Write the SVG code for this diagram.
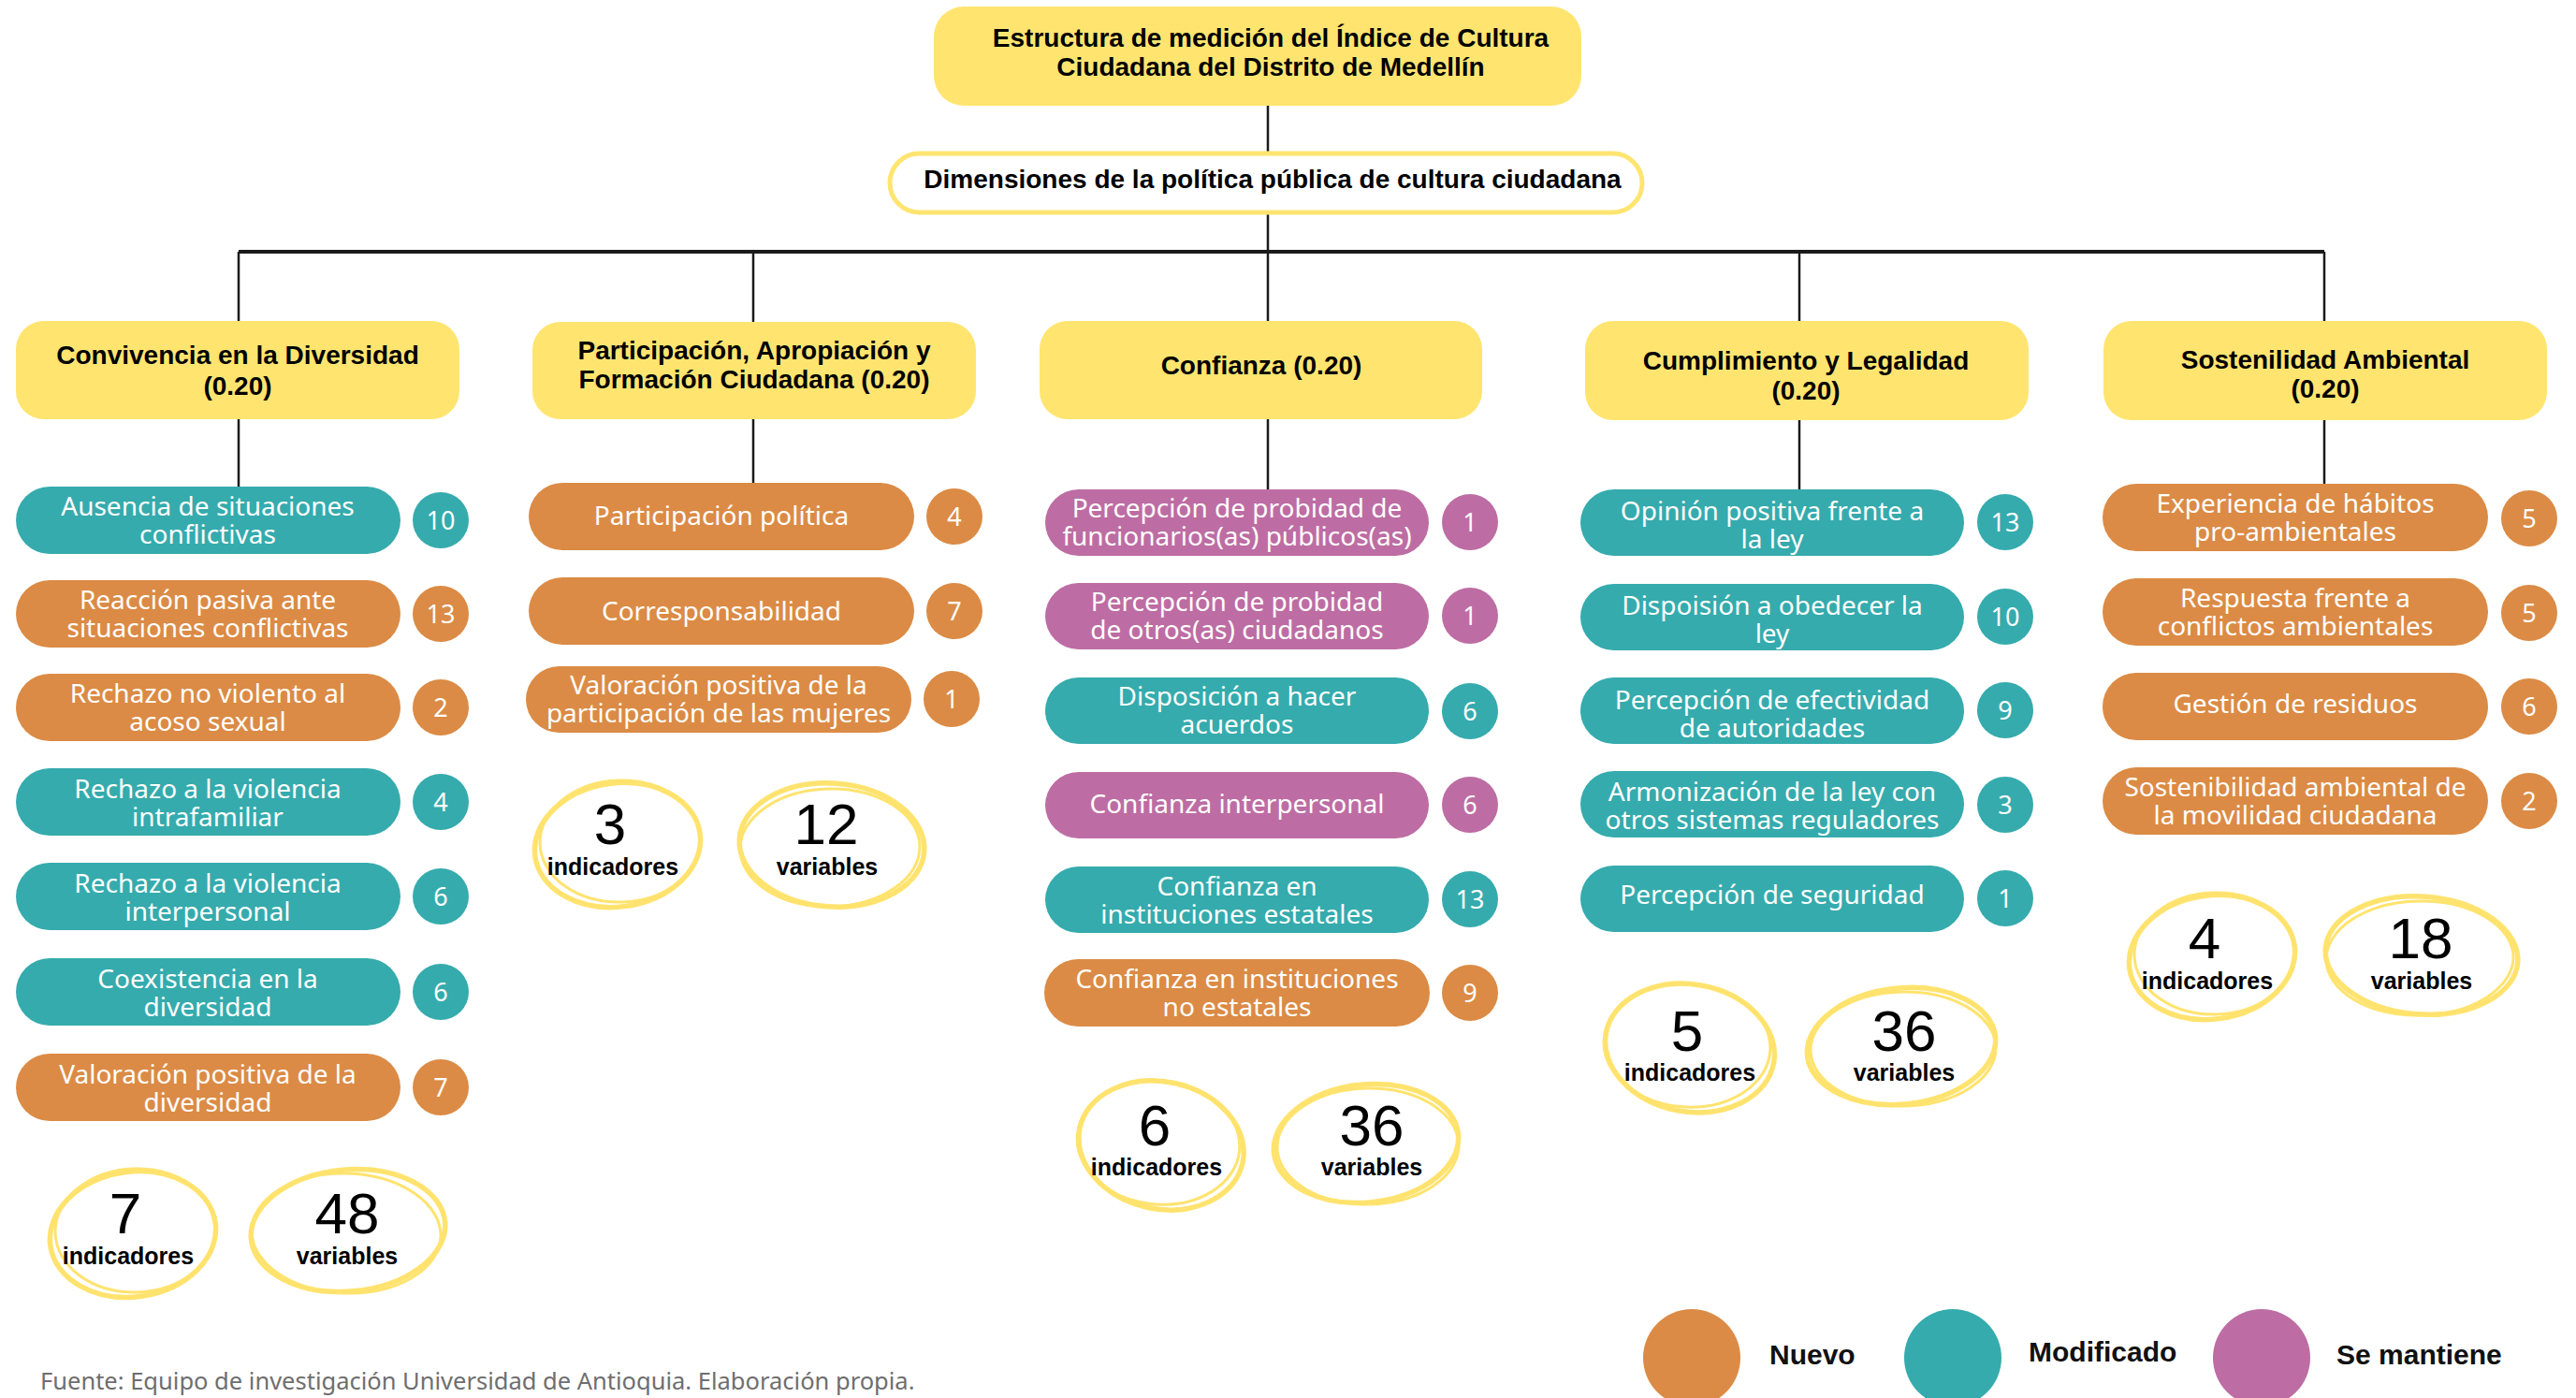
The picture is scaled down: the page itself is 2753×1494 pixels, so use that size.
<svg xmlns="http://www.w3.org/2000/svg" width="2753" height="1494" viewBox="0 0 2753 1494">
<style>
.bg{fill:#ffffff}
.yb{fill:#FFE570}
.dimsbox{fill:#ffffff;stroke:#FFE570;stroke-width:5}
.t{fill:#35ABAD}
.o{fill:#DB8B45}
.p{fill:#BD6DA3}
.ln{stroke:#1a1a1a;stroke-width:2.5;fill:none}
.hl{stroke:#1a1a1a;stroke-width:4;fill:none}
.ttl{font-family:"Liberation Sans",Arial,sans-serif;font-weight:bold;font-size:28px;fill:#000;text-anchor:middle}
.it{font-family:"Noto Sans","Liberation Sans",sans-serif;font-size:28px;fill:#fff;text-anchor:middle}
.bn{font-family:"Noto Sans","Liberation Sans",sans-serif;font-size:27px;fill:#fff;text-anchor:middle}
.num{font-family:"Liberation Sans",Arial,sans-serif;font-size:62px;fill:#000;text-anchor:middle}
.lab{font-family:"Liberation Sans",Arial,sans-serif;font-weight:bold;font-size:25px;fill:#000;text-anchor:middle}
.sk{fill:none;stroke:#FFE36E;stroke-width:5.5}
.sk2{fill:none;stroke:#FFE36E;stroke-width:3}
.leg{font-family:"Liberation Sans",Arial,sans-serif;font-weight:bold;font-size:30px;fill:#111}
.src{font-family:"Noto Sans","Liberation Sans",sans-serif;font-size:25.5px;fill:#6e6e6e}
</style>
<rect class="bg" x="0" y="0" width="2753" height="1494"/>

<g id="connectors">
<line class="ln" x1="1355" y1="113" x2="1355" y2="162"/>
<line class="ln" x1="1355" y1="228" x2="1355" y2="269"/>
<line class="hl" x1="255" y1="269" x2="2484" y2="269"/>
<line class="ln" x1="255" y1="269" x2="255" y2="343"/>
<line class="ln" x1="805" y1="269" x2="805" y2="344"/>
<line class="ln" x1="1355" y1="269" x2="1355" y2="343"/>
<line class="ln" x1="1923" y1="269" x2="1923" y2="343"/>
<line class="ln" x1="2484" y1="269" x2="2484" y2="343"/>
<line class="ln" x1="255" y1="448" x2="255" y2="522"/>
<line class="ln" x1="805" y1="448" x2="805" y2="518"/>
<line class="ln" x1="1355" y1="448" x2="1355" y2="525"/>
<line class="ln" x1="1923" y1="449" x2="1923" y2="525"/>
<line class="ln" x1="2484" y1="449" x2="2484" y2="519"/>
</g>

<g id="title">
<rect class="yb" x="998" y="7" width="692" height="106" rx="32"/>
<text class="ttl" x="1358" y="50">Estructura de medición del Índice de Cultura</text>
<text class="ttl" x="1358" y="81">Ciudadana del Distrito de Medellín</text>
</g>

<g id="dimensiones">
<rect class="dimsbox" x="951" y="164" width="804" height="63" rx="31.5"/>
<text class="ttl" x="1360" y="201">Dimensiones de la política pública de cultura ciudadana</text>
</g>

<!-- Column 1 -->
<g id="dim-convivencia">
<rect class="yb" x="17" y="343" width="474" height="105" rx="30"/>
<text class="ttl" x="254" y="389">Convivencia en la Diversidad</text>
<text class="ttl" x="254" y="422">(0.20)</text>
</g>
<g id="c1-1"><rect class="t" x="17" y="520" width="411" height="72" rx="36"/><text class="it" x="222" y="551">Ausencia de situaciones</text><text class="it" x="222" y="581">conflictivas</text><circle class="t" cx="471" cy="556" r="30"/><text class="bn" x="471" y="566">10</text></g>
<g id="c1-2"><rect class="o" x="17" y="620" width="411" height="72" rx="36"/><text class="it" x="222" y="651">Reacción pasiva ante</text><text class="it" x="222" y="681">situaciones conflictivas</text><circle class="o" cx="471" cy="656" r="30"/><text class="bn" x="471" y="666">13</text></g>
<g id="c1-3"><rect class="o" x="17" y="720" width="411" height="72" rx="36"/><text class="it" x="222" y="751">Rechazo no violento al</text><text class="it" x="222" y="781">acoso sexual</text><circle class="o" cx="471" cy="756" r="30"/><text class="bn" x="471" y="766">2</text></g>
<g id="c1-4"><rect class="t" x="17" y="821" width="411" height="72" rx="36"/><text class="it" x="222" y="853">Rechazo a la violencia</text><text class="it" x="222" y="883">intrafamiliar</text><circle class="t" cx="471" cy="857" r="30"/><text class="bn" x="471" y="867">4</text></g>
<g id="c1-5"><rect class="t" x="17" y="922" width="411" height="72" rx="36"/><text class="it" x="222" y="954">Rechazo a la violencia</text><text class="it" x="222" y="984">interpersonal</text><circle class="t" cx="471" cy="958" r="30"/><text class="bn" x="471" y="968">6</text></g>
<g id="c1-6"><rect class="t" x="17" y="1024" width="411" height="72" rx="36"/><text class="it" x="222" y="1056">Coexistencia en la</text><text class="it" x="222" y="1086">diversidad</text><circle class="t" cx="471" cy="1060" r="30"/><text class="bn" x="471" y="1070">6</text></g>
<g id="c1-7"><rect class="o" x="17" y="1126" width="411" height="72" rx="36"/><text class="it" x="222" y="1158">Valoración positiva de la</text><text class="it" x="222" y="1188">diversidad</text><circle class="o" cx="471" cy="1162" r="30"/><text class="bn" x="471" y="1172">7</text></g>
<g id="c1-stats">
<ellipse class="sk" cx="142" cy="1319" rx="89" ry="67" transform="rotate(-8 142 1319)"/>
<ellipse class="sk2" cx="145" cy="1315" rx="86" ry="66" transform="rotate(-2 145 1315)"/>
<text class="num" x="134" y="1318">7</text>
<text class="lab" x="137" y="1351">indicadores</text>
<ellipse class="sk" cx="372" cy="1315" rx="104" ry="65" transform="rotate(-5 372 1315)"/>
<ellipse class="sk2" cx="370" cy="1318" rx="101" ry="64" transform="rotate(2 370 1318)"/>
<text class="num" x="371" y="1318">48</text>
<text class="lab" x="371" y="1351">variables</text>
</g>

<!-- Column 2 -->
<g id="dim-participacion">
<rect class="yb" x="569" y="344" width="474" height="104" rx="30"/>
<text class="ttl" x="806" y="384">Participación, Apropiación y</text>
<text class="ttl" x="806" y="415">Formación Ciudadana (0.20)</text>
</g>
<g id="c2-1"><rect class="o" x="565" y="516" width="412" height="72" rx="36"/><text class="it" x="771" y="561">Participación política</text><circle class="o" cx="1020" cy="552" r="30"/><text class="bn" x="1020" y="562">4</text></g>
<g id="c2-2"><rect class="o" x="565" y="617" width="412" height="72" rx="36"/><text class="it" x="771" y="663">Corresponsabilidad</text><circle class="o" cx="1020" cy="653" r="30"/><text class="bn" x="1020" y="663">7</text></g>
<g id="c2-3"><rect class="o" x="562" y="712" width="412" height="71" rx="35.5"/><text class="it" x="768" y="742">Valoración positiva de la</text><text class="it" x="768" y="772">participación de las mujeres</text><circle class="o" cx="1017" cy="747" r="30"/><text class="bn" x="1017" y="757">1</text></g>
<g id="c2-stats">
<ellipse class="sk" cx="660" cy="903" rx="89" ry="66" transform="rotate(-8 660 903)"/>
<ellipse class="sk2" cx="663" cy="899" rx="86" ry="65" transform="rotate(-2 663 899)"/>
<text class="num" x="652" y="902">3</text>
<text class="lab" x="655" y="935">indicadores</text>
<ellipse class="sk" cx="889" cy="903" rx="99" ry="66" transform="rotate(4 889 903)"/>
<ellipse class="sk2" cx="887" cy="906" rx="96" ry="63" transform="rotate(-1 887 906)"/>
<text class="num" x="883" y="902">12</text>
<text class="lab" x="884" y="935">variables</text>
</g>

<!-- Column 3 -->
<g id="dim-confianza">
<rect class="yb" x="1111" y="343" width="473" height="105" rx="30"/>
<text class="ttl" x="1348" y="400">Confianza (0.20)</text>
</g>
<g id="c3-1"><rect class="p" x="1117" y="523" width="410" height="71" rx="35.5"/><text class="it" x="1322" y="553">Percepción de probidad de</text><text class="it" x="1322" y="583">funcionarios(as) públicos(as)</text><circle class="p" cx="1571" cy="558" r="30"/><text class="bn" x="1571" y="568">1</text></g>
<g id="c3-2"><rect class="p" x="1117" y="623" width="410" height="71" rx="35.5"/><text class="it" x="1322" y="653">Percepción de probidad</text><text class="it" x="1322" y="683">de otros(as) ciudadanos</text><circle class="p" cx="1571" cy="658" r="30"/><text class="bn" x="1571" y="668">1</text></g>
<g id="c3-3"><rect class="t" x="1117" y="724" width="410" height="71" rx="35.5"/><text class="it" x="1322" y="754">Disposición a hacer</text><text class="it" x="1322" y="784">acuerdos</text><circle class="t" cx="1571" cy="760" r="30"/><text class="bn" x="1571" y="770">6</text></g>
<g id="c3-4"><rect class="p" x="1117" y="825" width="410" height="71" rx="35.5"/><text class="it" x="1322" y="869">Confianza interpersonal</text><circle class="p" cx="1571" cy="860" r="30"/><text class="bn" x="1571" y="870">6</text></g>
<g id="c3-5"><rect class="t" x="1117" y="926" width="410" height="71" rx="35.5"/><text class="it" x="1322" y="957">Confianza en</text><text class="it" x="1322" y="987">instituciones estatales</text><circle class="t" cx="1571" cy="961" r="30"/><text class="bn" x="1571" y="971">13</text></g>
<g id="c3-6"><rect class="o" x="1116" y="1025" width="412" height="72" rx="36"/><text class="it" x="1322" y="1056">Confianza en instituciones</text><text class="it" x="1322" y="1086">no estatales</text><circle class="o" cx="1571" cy="1061" r="30"/><text class="bn" x="1571" y="1071">9</text></g>
<g id="c3-stats">
<ellipse class="sk" cx="1241" cy="1224" rx="89" ry="68" transform="rotate(12 1241 1224)"/>
<ellipse class="sk2" cx="1238" cy="1221" rx="87" ry="66" transform="rotate(6 1238 1221)"/>
<text class="num" x="1234" y="1224">6</text>
<text class="lab" x="1236" y="1256">indicadores</text>
<ellipse class="sk" cx="1460" cy="1222" rx="99" ry="63" transform="rotate(-6 1460 1222)"/>
<ellipse class="sk2" cx="1462" cy="1225" rx="97" ry="62" transform="rotate(-1 1462 1225)"/>
<text class="num" x="1466" y="1224">36</text>
<text class="lab" x="1466" y="1256">variables</text>
</g>

<!-- Column 4 -->
<g id="dim-cumplimiento">
<rect class="yb" x="1694" y="343" width="474" height="106" rx="30"/>
<text class="ttl" x="1930" y="395">Cumplimiento y Legalidad</text>
<text class="ttl" x="1930" y="427">(0.20)</text>
</g>
<g id="c4-1"><rect class="t" x="1689" y="523" width="410" height="71" rx="35.5"/><text class="it" x="1894" y="556">Opinión positiva frente a</text><text class="it" x="1894" y="586">la ley</text><circle class="t" cx="2143" cy="558" r="30"/><text class="bn" x="2143" y="568">13</text></g>
<g id="c4-2"><rect class="t" x="1689" y="624" width="410" height="71" rx="35.5"/><text class="it" x="1894" y="657">Dispoisión a obedecer la</text><text class="it" x="1894" y="687">ley</text><circle class="t" cx="2143" cy="659" r="30"/><text class="bn" x="2143" y="669">10</text></g>
<g id="c4-3"><rect class="t" x="1689" y="724" width="410" height="71" rx="35.5"/><text class="it" x="1894" y="758">Percepción de efectividad</text><text class="it" x="1894" y="788">de autoridades</text><circle class="t" cx="2143" cy="759" r="30"/><text class="bn" x="2143" y="769">9</text></g>
<g id="c4-4"><rect class="t" x="1689" y="824" width="410" height="71" rx="35.5"/><text class="it" x="1894" y="856">Armonización de la ley con</text><text class="it" x="1894" y="886">otros sistemas reguladores</text><circle class="t" cx="2143" cy="860" r="30"/><text class="bn" x="2143" y="870">3</text></g>
<g id="c4-5"><rect class="t" x="1689" y="925" width="410" height="71" rx="35.5"/><text class="it" x="1894" y="966">Percepción de seguridad</text><circle class="t" cx="2143" cy="960" r="30"/><text class="bn" x="2143" y="970">1</text></g>
<g id="c4-stats">
<ellipse class="sk" cx="1806" cy="1120" rx="91" ry="68" transform="rotate(10 1806 1120)"/>
<ellipse class="sk2" cx="1803" cy="1117" rx="89" ry="66" transform="rotate(4 1803 1117)"/>
<text class="num" x="1803" y="1123">5</text>
<text class="lab" x="1806" y="1155">indicadores</text>
<ellipse class="sk" cx="2032" cy="1118" rx="101" ry="62" transform="rotate(-6 2032 1118)"/>
<ellipse class="sk2" cx="2034" cy="1121" rx="99" ry="61" transform="rotate(-1 2034 1121)"/>
<text class="num" x="2035" y="1123">36</text>
<text class="lab" x="2035" y="1155">variables</text>
</g>

<!-- Column 5 -->
<g id="dim-sostenibilidad">
<rect class="yb" x="2248" y="343" width="474" height="106" rx="30"/>
<text class="ttl" x="2485" y="394">Sostenilidad Ambiental</text>
<text class="ttl" x="2485" y="425">(0.20)</text>
</g>
<g id="c5-1"><rect class="o" x="2247" y="517" width="412" height="72" rx="36"/><text class="it" x="2453" y="548">Experiencia de hábitos</text><text class="it" x="2453" y="578">pro-ambientales</text><circle class="o" cx="2703" cy="554" r="30"/><text class="bn" x="2703" y="564">5</text></g>
<g id="c5-2"><rect class="o" x="2247" y="618" width="412" height="72" rx="36"/><text class="it" x="2453" y="649">Respuesta frente a</text><text class="it" x="2453" y="679">conflictos ambientales</text><circle class="o" cx="2703" cy="655" r="30"/><text class="bn" x="2703" y="665">5</text></g>
<g id="c5-3"><rect class="o" x="2247" y="719" width="412" height="72" rx="36"/><text class="it" x="2453" y="762">Gestión de residuos</text><circle class="o" cx="2703" cy="755" r="30"/><text class="bn" x="2703" y="765">6</text></g>
<g id="c5-4"><rect class="o" x="2247" y="820" width="412" height="72" rx="36"/><text class="it" x="2453" y="851">Sostenibilidad ambiental de</text><text class="it" x="2453" y="881">la movilidad ciudadana</text><circle class="o" cx="2703" cy="856" r="30"/><text class="bn" x="2703" y="866">2</text></g>
<g id="c5-stats">
<ellipse class="sk" cx="2364" cy="1023" rx="89" ry="66" transform="rotate(-8 2364 1023)"/>
<ellipse class="sk2" cx="2367" cy="1019" rx="86" ry="65" transform="rotate(-2 2367 1019)"/>
<text class="num" x="2356" y="1024">4</text>
<text class="lab" x="2359" y="1057">indicadores</text>
<ellipse class="sk" cx="2588" cy="1021" rx="103" ry="63" transform="rotate(4 2588 1021)"/>
<ellipse class="sk2" cx="2586" cy="1024" rx="100" ry="61" transform="rotate(-1 2586 1024)"/>
<text class="num" x="2587" y="1024">18</text>
<text class="lab" x="2588" y="1057">variables</text>
</g>

<g id="legend">
<circle class="o" cx="1808" cy="1451" r="52"/>
<text class="leg" x="1891" y="1458">Nuevo</text>
<circle class="t" cx="2087" cy="1451" r="52"/>
<text class="leg" x="2168" y="1455">Modificado</text>
<circle class="p" cx="2417" cy="1451" r="52"/>
<text class="leg" x="2497" y="1458">Se mantiene</text>
</g>

<text class="src" x="43" y="1485">Fuente: Equipo de investigación Universidad de Antioquia. Elaboración propia.</text>
</svg>
